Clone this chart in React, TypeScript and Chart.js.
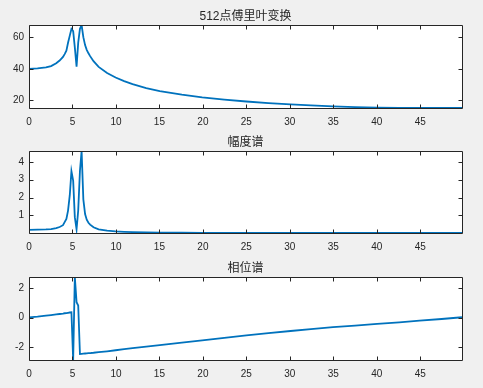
import React, { useEffect, useRef } from 'react';
import { Chart, registerables } from 'chart.js';

Chart.register(...registerables);

const FREQ = [
  0, 0.98, 1.95, 2.54, 3.13, 3.52, 3.91, 4.10, 4.30, 4.49, 4.69, 4.88, 5.08, 5.27, 5.47, 5.66,
  5.86, 6.05, 6.25, 6.45, 6.64, 6.84, 7.03, 7.42, 8.01, 8.98, 9.96, 10.94, 11.91, 13.48, 15.04,
  17.58, 19.92, 22.46, 25.0, 27.54, 30.08, 32.42, 34.96, 37.5, 40.04, 42.58, 44.92, 47.46, 49.8,
];

// 512点傅里叶变换 (dB)
const AMP_DB = [
  40.0, 40.2, 40.9, 41.7, 43.5, 45.2, 47.5, 49.3, 51.5, 56.5, 61.0, 65.2, 63.8, 53.5, 41.3, 56.5,
  65.3, 67.7, 60.0, 55.0, 52.0, 49.8, 48.0, 44.8, 41.2, 37.3, 34.5, 32.2, 30.3, 27.8, 25.9,
  23.6, 21.9, 20.5, 19.3, 18.3, 17.5, 16.8, 16.2, 15.8, 15.5, 15.3, 15.25, 15.2, 15.2,
];

// 幅度谱
const AMP = [
  0.19, 0.195, 0.21, 0.23, 0.285, 0.345, 0.45, 0.62, 0.8, 1.27, 2.13, 3.48, 2.95, 0.9, 0.22, 1.27,
  3.5, 4.61, 1.9, 1.07, 0.76, 0.585, 0.48, 0.33, 0.22, 0.143, 0.1, 0.077, 0.062, 0.046, 0.037,
  0.028, 0.023, 0.02, 0.0175, 0.0156, 0.0142, 0.0132, 0.0123, 0.0117, 0.0113, 0.0111, 0.011, 0.0109, 0.0109,
];

// 相位谱
const PHASE = [
  0.02, 0.07, 0.14, 0.18, 0.22, 0.25, 0.28, 0.3, 0.31, 0.33, 0.35, 0.37, -2.86, 2.75, 1.05, 0.82,
  -2.45, -2.44, -2.43, -2.42, -2.41, -2.4, -2.39, -2.37, -2.33, -2.27, -2.2, -2.13, -2.06, -1.95, -1.85,
  -1.69, -1.53, -1.36, -1.19, -1.04, -0.9, -0.77, -0.64, -0.53, -0.42, -0.31, -0.2, -0.09, 0.03,
];

const X_TICKS = [0, 5, 10, 15, 20, 25, 30, 35, 40, 45];
const X_MIN = 0;
const X_MAX = 49.8;
const DB_TICKS = [20, 40, 60];
const AMP_TICKS = [1, 2, 3, 4];
const PHASE_TICKS = [-2, 0, 2];
const TITLES = ['512点傅里叶变换', '幅度谱', '相位谱'];

const W = 483;
const AXIS_COLOR = '#262626';
const LINE_COLOR = '#0072BD';
const TICK_FONT = '"Liberation Sans", Arial, Helvetica, sans-serif';
const TITLE_FONT = '"Liberation Sans", "Noto Sans CJK SC", sans-serif';

// areaTop / areaBottom are relative to each canvas top
const PANELS = [
  { top: 0, height: 130, areaTop: 25, areaBottom: 108, values: AMP_DB, ticks: DB_TICKS, title: TITLES[0], labelPad: 8 },
  { top: 130, height: 128, areaTop: 21, areaBottom: 103, values: AMP, ticks: AMP_TICKS, title: TITLES[1], labelPad: 8 },
  { top: 258, height: 130, areaTop: 19, areaBottom: 102, values: PHASE, ticks: PHASE_TICKS, title: TITLES[2], labelPad: 8 },
];

const whiteArea = {
  id: 'whiteArea',
  beforeDraw(chart: any) {
    const { ctx, chartArea: a } = chart;
    ctx.save();
    ctx.fillStyle = '#ffffff';
    ctx.fillRect(a.left, a.top, a.right - a.left, a.bottom - a.top);
    ctx.restore();
  },
};

const matlabAxes = {
  id: 'matlabAxes',
  afterDraw(chart: any, _args: any, opts: any) {
    const { ctx, chartArea: a, scales } = chart;
    const L = Math.round(a.left) + 0.5;
    const R = Math.round(a.right) + 0.5;
    const T = Math.round(a.top) + 0.5;
    const B = Math.round(a.bottom) + 0.5;
    const len = 4;
    ctx.save();
    ctx.strokeStyle = AXIS_COLOR;
    ctx.lineWidth = 1;
    ctx.beginPath();
    ctx.rect(L, T, R - L, B - T);
    scales.x.ticks.forEach((t: any) => {
      const px = Math.round(scales.x.getPixelForValue(t.value)) + 0.5;
      ctx.moveTo(px, B);
      ctx.lineTo(px, B - len);
      ctx.moveTo(px, T);
      ctx.lineTo(px, T + len);
    });
    scales.y.ticks.forEach((t: any) => {
      const py = Math.round(scales.y.getPixelForValue(t.value)) + 0.5;
      ctx.moveTo(L, py);
      ctx.lineTo(L + len, py);
      ctx.moveTo(R, py);
      ctx.lineTo(R - len, py);
    });
    ctx.stroke();
    if (opts && opts.text) {
      ctx.fillStyle = AXIS_COLOR;
      ctx.font = '12px ' + TITLE_FONT;
      ctx.textAlign = 'center';
      ctx.textBaseline = 'middle';
      ctx.fillText(opts.text, (a.left + a.right) / 2, a.top - 8.5);
    }
    ctx.restore();
  },
};

function Panel({ cfg }: { cfg: typeof PANELS[number] }) {
  const ref = useRef<HTMLCanvasElement | null>(null);
  useEffect(() => {
    if (!ref.current) return;
    const values = cfg.values;
    const yMin = Math.min(...values);
    const yMax = Math.max(...values);
    const chart = new Chart(ref.current, {
      type: 'line',
      data: {
        datasets: [
          {
            data: FREQ.map((f, i) => ({ x: f, y: values[i] })),
            borderColor: LINE_COLOR,
            borderWidth: 1.8,
            pointRadius: 0,
            tension: 0,
            fill: false,
          },
        ],
      },
      options: {
        animation: false,
        responsive: false,
        devicePixelRatio: 1,
        events: [],
        layout: { padding: { top: cfg.areaTop, right: W - 462, bottom: 0, left: 0 } },
        plugins: {
          legend: { display: false },
          tooltip: { enabled: false },
          title: { display: false },
          matlabAxes: { text: cfg.title },
        } as any,
        scales: {
          x: {
            type: 'linear',
            min: X_MIN,
            max: X_MAX,
            grid: { display: false, drawTicks: false },
            border: { display: false },
            afterBuildTicks: (s: any) => {
              s.ticks = X_TICKS.map((v) => ({ value: v }));
            },
            afterFit: (s: any) => {
              s.height = cfg.height - cfg.areaBottom;
            },
            ticks: {
              autoSkip: false,
              maxRotation: 0,
              padding: cfg.labelPad,
              color: AXIS_COLOR,
              font: { family: TICK_FONT, size: 10 },
              callback: (v: any) => String(v),
            },
          },
          y: {
            type: 'linear',
            min: yMin,
            max: yMax,
            grid: { display: false, drawTicks: false },
            border: { display: false },
            afterBuildTicks: (s: any) => {
              s.ticks = cfg.ticks.map((v) => ({ value: v }));
            },
            afterFit: (s: any) => {
              s.width = 29;
            },
            ticks: {
              padding: 5,
              color: AXIS_COLOR,
              font: { family: TICK_FONT, size: 10 },
              callback: (v: any) => String(v),
            },
          },
        },
      },
      plugins: [whiteArea, matlabAxes],
    });
    return () => chart.destroy();
  }, [cfg]);
  return (
    <canvas
      ref={ref}
      width={W}
      height={cfg.height}
      style={{ position: 'absolute', left: 0, top: cfg.top, width: W, height: cfg.height, display: 'block' }}
    />
  );
}

export default function App() {
  return (
    <div style={{ position: 'absolute', left: 0, top: 0, width: W, height: 388, background: '#f0f0f0', overflow: 'hidden' }}>
      {PANELS.map((p, i) => (
        <Panel key={i} cfg={p} />
      ))}
    </div>
  );
}
